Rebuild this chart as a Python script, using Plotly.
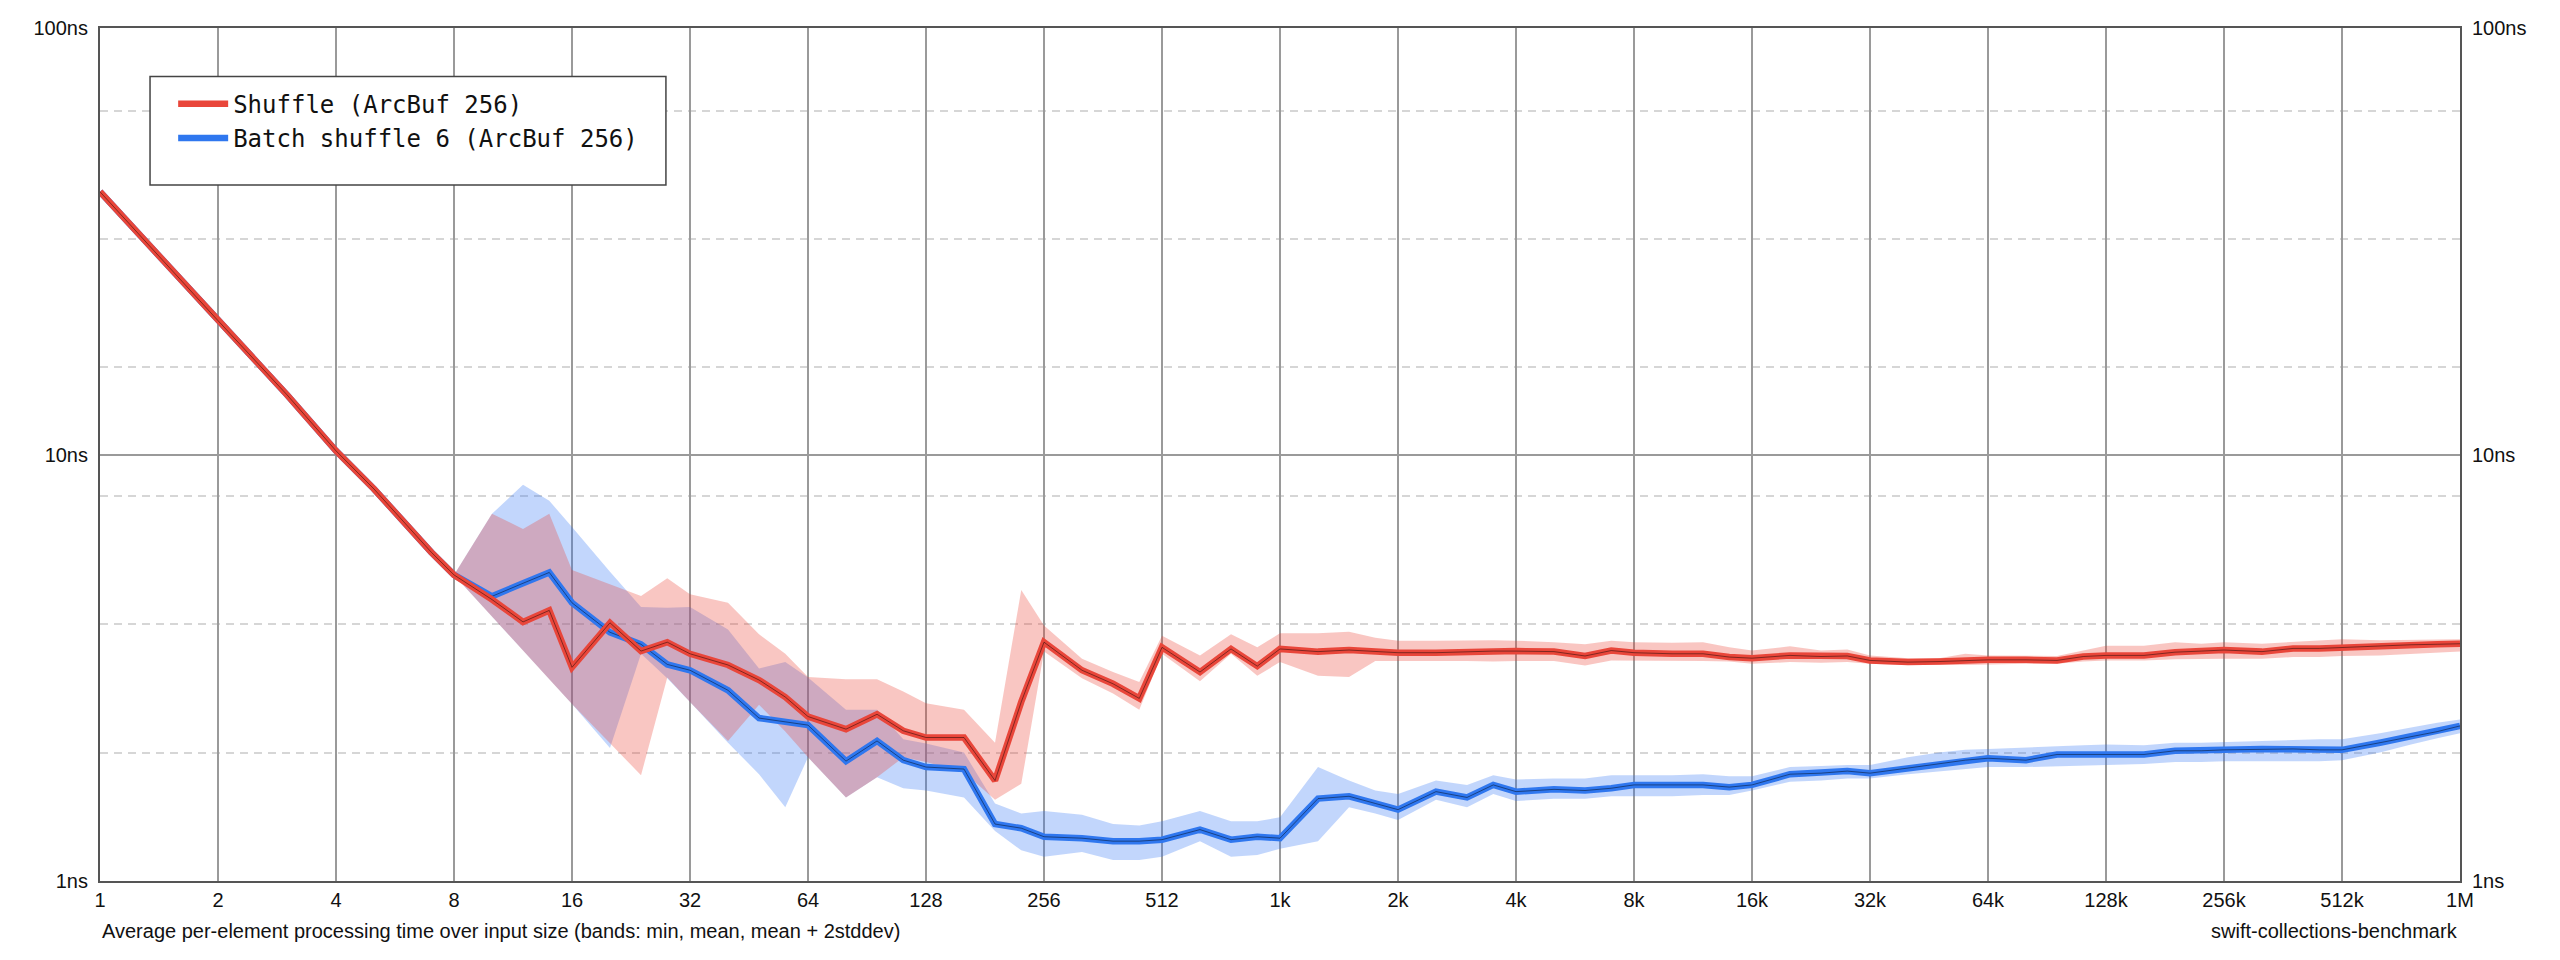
import math
import plotly.graph_objects as go

# input sizes (x) and per-element time in ns (y)
SIZES = [1, 2, 3, 4, 5, 6, 7, 8,
         10, 12, 14, 16, 20, 24, 28, 32, 40, 48, 56, 64,
         80, 96, 112, 128, 160, 192, 224, 256, 320, 384, 448, 512,
         640, 768, 896, 1024, 1280, 1536, 1792, 2048, 2560, 3072, 3584, 4096,
         5120, 6144, 7168, 8192, 10240, 12288, 14336, 16384,
         20480, 24576, 28672, 32768, 40960, 49152, 57344, 65536,
         81920, 98304, 114688, 131072, 163840, 196608, 229376, 262144,
         327680, 393216, 458752, 524288, 655360, 786432, 917504, 1048576]

SHUFFLE_MEAN = [41.3, 20.6, 13.8, 10.2, 8.3, 6.9, 5.9, 5.22,
                4.57, 4.05, 4.31, 3.17, 4.03, 3.46, 3.63, 3.41, 3.21, 2.96, 2.70, 2.43,
                2.27, 2.46, 2.25, 2.17, 2.17, 1.72, 2.63, 3.63, 3.12, 2.90, 2.68, 3.53,
                3.09, 3.50, 3.19, 3.50, 3.45, 3.48, 3.45, 3.43, 3.43, 3.45, 3.46, 3.46,
                3.45, 3.37, 3.47, 3.43, 3.41, 3.41, 3.35, 3.33,
                3.38, 3.36, 3.37, 3.29, 3.26, 3.27, 3.29, 3.30,
                3.30, 3.29, 3.36, 3.38, 3.38, 3.44, 3.46, 3.48,
                3.45, 3.51, 3.51, 3.53, 3.56, 3.58, 3.59, 3.60]
SHUFFLE_MIN = [41.3, 20.6, 13.8, 10.2, 8.3, 6.9, 5.9, 5.22,
               4.17, 3.47, 2.97, 2.60, 2.10, 1.77, 3.00, 2.63, 2.13, 2.59, 2.24, 1.95,
               1.57, 1.75, 1.95, 1.90, 1.80, 1.55, 1.69, 3.45, 2.99, 2.75, 2.52, 3.41,
               2.94, 3.41, 3.03, 3.26, 3.03, 3.01, 3.28, 3.28, 3.28, 3.28, 3.27, 3.28,
               3.28, 3.20, 3.29, 3.28, 3.28, 3.28, 3.27, 3.23,
               3.26, 3.25, 3.26, 3.23, 3.21, 3.21, 3.21, 3.21,
               3.23, 3.23, 3.27, 3.29, 3.29, 3.31, 3.32, 3.32,
               3.32, 3.35, 3.35, 3.37, 3.38, 3.40, 3.43, 3.45]
SHUFFLE_HI = [41.3, 20.6, 13.8, 10.2, 8.3, 6.9, 5.9, 5.22,
              7.26, 6.69, 7.26, 5.36, 4.97, 4.66, 5.13, 4.70, 4.49, 3.79, 3.41, 3.01,
              2.97, 2.97, 2.78, 2.61, 2.52, 2.11, 4.81, 3.97, 3.32, 3.09, 2.93, 3.76,
              3.38, 3.79, 3.53, 3.81, 3.81, 3.84, 3.72, 3.66, 3.66, 3.67, 3.67, 3.66,
              3.63, 3.59, 3.66, 3.63, 3.62, 3.63, 3.53, 3.47,
              3.55, 3.47, 3.49, 3.38, 3.33, 3.33, 3.41, 3.38,
              3.37, 3.37, 3.47, 3.56, 3.56, 3.63, 3.60, 3.63,
              3.60, 3.64, 3.66, 3.69, 3.67, 3.68, 3.68, 3.69]

BATCH_MEAN = [41.3, 20.6, 13.8, 10.2, 8.3, 6.9, 5.9, 5.22,
              4.65, 4.99, 5.29, 4.49, 3.83, 3.59, 3.22, 3.12, 2.80, 2.41, 2.36, 2.32,
              1.91, 2.13, 1.92, 1.85, 1.83, 1.36, 1.33, 1.27, 1.26, 1.24, 1.24, 1.25,
              1.32, 1.25, 1.27, 1.26, 1.56, 1.58, 1.52, 1.47, 1.62, 1.57, 1.68, 1.62,
              1.64, 1.63, 1.65, 1.68, 1.68, 1.68, 1.66, 1.68,
              1.78, 1.79, 1.81, 1.79, 1.84, 1.88, 1.92, 1.94,
              1.92, 1.98, 1.98, 1.98, 1.98, 2.02, 2.02, 2.03,
              2.04, 2.04, 2.03, 2.03, 2.11, 2.18, 2.24, 2.31]
BATCH_MIN = [41.3, 20.6, 13.8, 10.2, 8.3, 6.9, 5.9, 5.22,
             4.17, 3.47, 2.97, 2.60, 2.05, 3.41, 2.99, 2.63, 2.11, 1.78, 1.49, 1.95,
             1.57, 1.75, 1.65, 1.63, 1.57, 1.31, 1.18, 1.14, 1.17, 1.12, 1.12, 1.14,
             1.24, 1.14, 1.15, 1.19, 1.24, 1.49, 1.44, 1.39, 1.55, 1.49, 1.60, 1.54,
             1.56, 1.56, 1.58, 1.58, 1.58, 1.59, 1.59, 1.63,
             1.71, 1.72, 1.74, 1.74, 1.78, 1.81, 1.83, 1.85,
             1.85, 1.86, 1.86, 1.87, 1.88, 1.90, 1.90, 1.91,
             1.91, 1.91, 1.91, 1.92, 2.00, 2.09, 2.16, 2.22]
BATCH_HI = [41.3, 20.6, 13.8, 10.2, 8.3, 6.9, 5.9, 5.22,
            7.26, 8.49, 7.79, 6.76, 5.31, 4.39, 4.37, 4.39, 3.89, 3.15, 3.26, 3.00,
            2.52, 2.52, 2.15, 2.10, 2.00, 1.52, 1.44, 1.46, 1.43, 1.36, 1.35, 1.38,
            1.46, 1.38, 1.38, 1.41, 1.85, 1.72, 1.63, 1.60, 1.72, 1.68, 1.77, 1.73,
            1.74, 1.74, 1.77, 1.77, 1.77, 1.78, 1.76, 1.76,
            1.85, 1.86, 1.87, 1.87, 1.95, 2.00, 2.03, 2.04,
            2.06, 2.07, 2.08, 2.09, 2.08, 2.11, 2.11, 2.12,
            2.13, 2.14, 2.15, 2.15, 2.22, 2.29, 2.35, 2.39]

X_TICKS = [1, 2, 4, 8, 16, 32, 64, 128, 256, 512, 1024, 2048, 4096, 8192,
           16384, 32768, 65536, 131072, 262144, 524288, 1048576]
X_LABELS = ["1", "2", "4", "8", "16", "32", "64", "128", "256", "512", "1k", "2k",
            "4k", "8k", "16k", "32k", "64k", "128k", "256k", "512k", "1M"]
Y_TICKS = [1, 10, 100]
Y_LABELS = ["1ns", "10ns", "100ns"]
Y_MINOR = [2, 4, 8, 16, 32, 64]

SERIES = [
    ("Shuffle (ArcBuf 256)", SHUFFLE_MEAN, SHUFFLE_MIN, SHUFFLE_HI, "#e9463a", "rgba(234,67,53,0.3)"),
    ("Batch shuffle 6 (ArcBuf 256)", BATCH_MEAN, BATCH_MIN, BATCH_HI, "#2f77ef", "rgba(52,120,246,0.3)"),
]

LABEL_FONT = dict(family="Liberation Sans, Arial, sans-serif", size=20, color="#111")
GRID = "#9a9a9a"
FRAME = "#555555"

fig = go.Figure()

# bands first (batch under shuffle), then the mean lines
for name, mean, lo, hi, color, fill in reversed(SERIES):
    fig.add_trace(go.Scatter(
        x=SIZES + SIZES[::-1], y=hi + lo[::-1],
        fill="toself", fillcolor=fill, line=dict(width=0),
        mode="lines", hoverinfo="skip", showlegend=False,
    ))

for rank, (name, mean, lo, hi, color, fill) in reversed(list(enumerate(SERIES))):
    fig.add_trace(go.Scatter(
        x=SIZES, y=mean, name=name, mode="lines",
        line=dict(color=color, width=6.5), legendrank=rank + 1,
    ))
    # thin dark core line on top of the thick one
    fig.add_trace(go.Scatter(
        x=SIZES, y=mean, mode="lines", showlegend=False, hoverinfo="skip",
        line=dict(color="rgba(0,0,0,0.45)", width=1),
    ))

fig.update_xaxes(
    type="log", range=[0, math.log10(X_TICKS[-1])],
    tickvals=X_TICKS, ticktext=X_LABELS, tickfont=LABEL_FONT, ticks="",
    showgrid=True, gridcolor=GRID, gridwidth=1.5, zeroline=False,
    showline=True, linecolor=FRAME, linewidth=2, mirror=True,
)
fig.update_yaxes(
    type="log", range=[0, 2],
    tickvals=Y_TICKS, ticktext=Y_LABELS, tickfont=LABEL_FONT, ticks="",
    ticklabelstandoff=6,
    showgrid=True, gridcolor=GRID, gridwidth=1.5, zeroline=False,
    showline=True, linecolor=FRAME, linewidth=2, mirror=True,
    minor=dict(tickvals=Y_MINOR, showgrid=True, gridcolor="#d6d6d6",
               gridwidth=1.5, griddash="8px,6px", ticks=""),
)

# same tick labels on the right-hand side
for v, t in zip(Y_TICKS, Y_LABELS):
    fig.add_annotation(x=1, xref="paper", y=math.log10(v), yref="y", text=t,
                       showarrow=False, xanchor="left", xshift=10, font=LABEL_FONT)

fig.add_annotation(x=0, xref="paper", y=0, yref="paper", yshift=-50,
                   text="Average per-element processing time over input size (bands: min, mean, mean + 2stddev)",
                   showarrow=False, xanchor="left", yanchor="middle", font=LABEL_FONT)
fig.add_annotation(x=1, xref="paper", y=0, yref="paper", yshift=-50,
                   text="swift-collections-benchmark",
                   showarrow=False, xanchor="right", yanchor="middle", font=LABEL_FONT)

# legend box
fig.add_shape(type="rect", xref="paper", yref="paper",
              x0=0.0212, x1=0.2398, y0=0.816, y1=0.943,
              fillcolor="white", line=dict(color="#444", width=1.5), layer="above")

# the page body has an 8px margin, so the figure is a bit smaller than the window
fig.update_layout(
    width=2544, height=944,
    margin=dict(l=92, r=92, t=9, b=71),
    plot_bgcolor="white", paper_bgcolor="white",
    showlegend=True,
    legend=dict(x=0.031, y=0.937, xanchor="left", yanchor="top",
                bgcolor="rgba(0,0,0,0)", borderwidth=0, itemwidth=50,
                font=dict(family="DejaVu Sans Mono, monospace", size=24, color="#111")),
)

fig.write_html("out.html")
